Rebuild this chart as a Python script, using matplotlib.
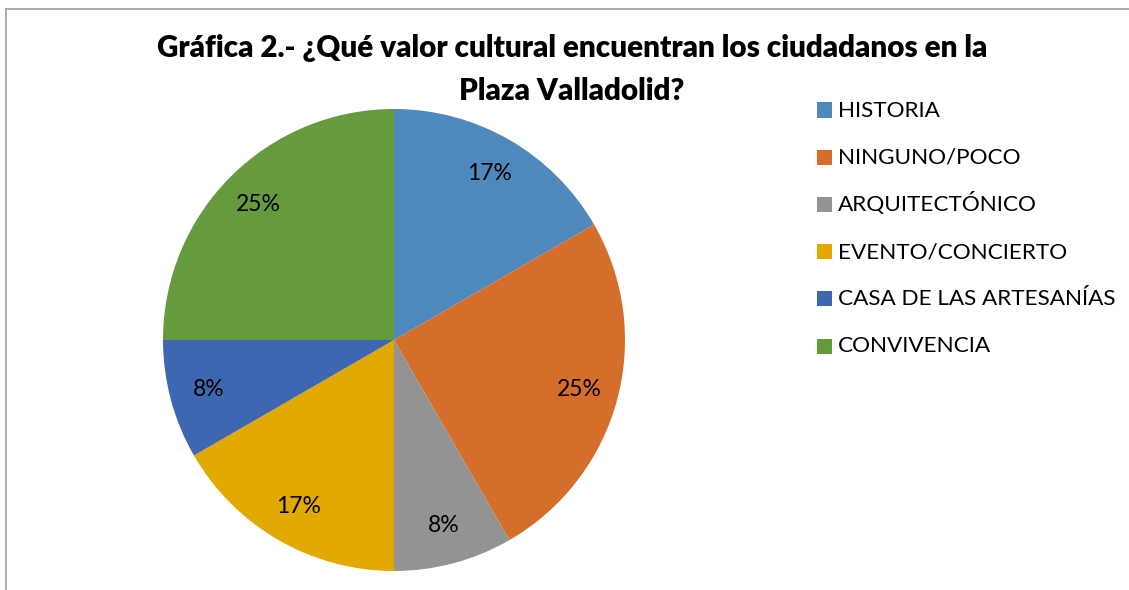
import matplotlib
matplotlib.use('Agg')
import matplotlib.pyplot as plt
from matplotlib.lines import Line2D
from matplotlib.patches import Rectangle

# counts per answer (12 responses)
CATEGORIES = ['HISTORIA', 'NINGUNO/POCO', 'ARQUITECTÓNICO', 'EVENTO/CONCIERTO',
              'CASA DE LAS ARTESANÍAS', 'CONVIVENCIA']
COUNTS = [2, 3, 1, 2, 1, 3]
COLORS = ['#4F88BD', '#D46E2A', '#939393', '#E2AA00', '#3F66B0', '#659A3D']
TITLE_LINES = ['Gráfica 2.- ¿Qué valor cultural encuentran los ciudadanos en la',
               'Plaza Valladolid?']

W, H = 1129, 590
plt.rcParams['font.family'] = ['Lato', 'DejaVu Sans']

fig = plt.figure(figsize=(W / 100, H / 100), dpi=100)

# pie axes placed in pixels: centre (394, 340), radius 231
cx, cy, r = 394, 340, 231
ax = fig.add_axes([(cx - r) / W, (H - cy - r) / H, 2 * r / W, 2 * r / H])
wedges, texts, autotexts = ax.pie(
    COUNTS, colors=COLORS, startangle=90, counterclock=False,
    autopct=lambda p: '%d%%' % round(p), pctdistance=0.83,
    wedgeprops=dict(linewidth=0), textprops=dict(fontsize=16.5, color='black'))
ax.set_xlim(-1, 1)
ax.set_ylim(-1, 1)
ax.set_aspect('equal')
ax.axis('off')

# title as two separate lines so its box doesn't spill over the legend
for i, line in enumerate(TITLE_LINES):
    fig.text(572 / W, 1 - (57 + 43 * i) / H, line, ha='center', va='baseline',
             fontsize=21.3, fontweight='heavy')

# legend drawn by hand so rows are evenly spaced (like the Excel legend)
row0, step, sq = 110, 47.2, 15
for i, (name, col) in enumerate(zip(CATEGORIES, COLORS)):
    y = row0 + i * step
    fig.add_artist(Rectangle((817 / W, 1 - (y + sq / 2) / H), sq / W, sq / H,
                             transform=fig.transFigure, facecolor=col, edgecolor='none'))
    fig.text(838 / W, 1 - (y + 6.5) / H, name, ha='left', va='baseline', fontsize=16.2)

# chart area border (top and left visible)
fig.add_artist(Line2D([6 / W, 1], [1 - 9 / H, 1 - 9 / H], color='#A0A0A0', lw=1.2))
fig.add_artist(Line2D([6 / W, 6 / W], [0, 1 - 9 / H], color='#A0A0A0', lw=1.2))

fig.savefig('out.png', dpi=100)
